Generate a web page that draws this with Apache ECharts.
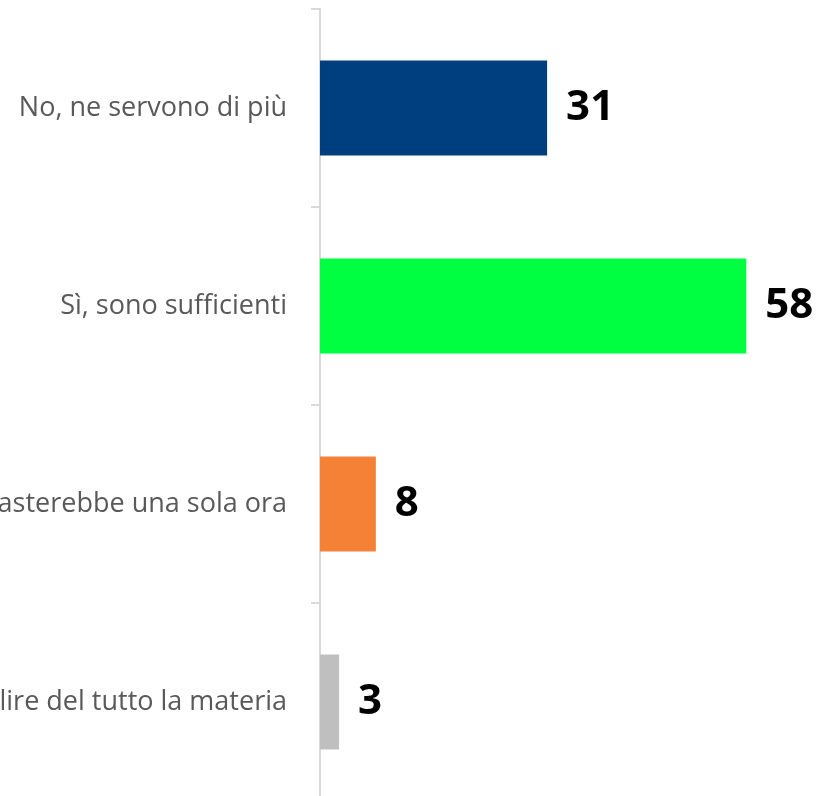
<!DOCTYPE html>
<html>
<head>
<meta charset="utf-8">
<script src="https://cdn.jsdelivr.net/npm/echarts@6/dist/echarts.min.js"></script>
<style>
  html, body { margin: 0; padding: 0; background: #fff; }
  #chart { width: 816px; height: 796px; }
</style>
</head>
<body>
<div id="chart"></div>
<script>
// dati del grafico
const categories = [
    'No, ne servono di più',
    'Sì, sono sufficienti',
    'Basterebbe una sola ora',
    'Si potrebbe abolire del tutto la materia'
];
const values = [30.9, 58.0, 7.6, 2.6];
const barColors = ['#003F7F', '#00FF40', '#F58137', '#BFBFBF'];

const chart = echarts.init(document.getElementById('chart'));

const option = {
    animation: false,
    grid: {
        left: 320, top: 9, height: 792, right: 55,
        containLabel: false,
        outerBoundsMode: 'none'
    },
    xAxis: {
        type: 'value',
        min: 0,
        max: 60,
        show: false
    },
    yAxis: {
        type: 'category',
        inverse: true,
        data: categories,
        axisLine: { show: true, lineStyle: { color: '#D9D9D9', width: 2 } },
        axisTick: { show: true, length: 9, lineStyle: { color: '#D9D9D9', width: 2 } },
        axisLabel: {
            margin: 33,
            color: '#595959',
            fontFamily: 'Open Sans',
            fontSize: 27
        },
        splitLine: { show: false }
    },
    series: [{
        type: 'bar',
        barWidth: 95,
        data: values.map((v, i) => ({ value: v, itemStyle: { color: barColors[i] } })),
        label: {
            show: true,
            position: 'right',
            distance: 19,
            color: '#000',
            fontFamily: 'Open Sans',
            fontWeight: 'bold',
            fontSize: 42,
            formatter: p => Math.round(p.value)
        }
    }]
};

chart.setOption(option);
</script>
</body>
</html>
